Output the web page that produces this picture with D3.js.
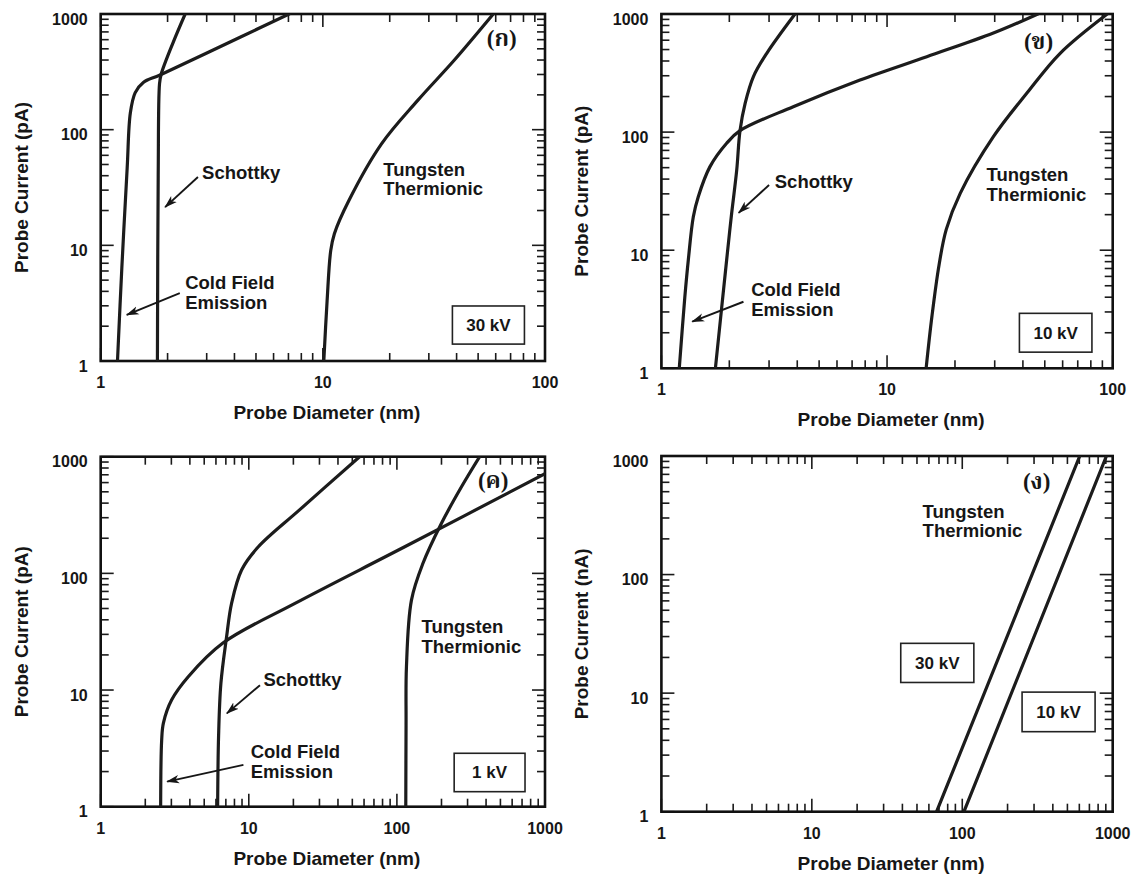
<!DOCTYPE html>
<html><head><meta charset="utf-8">
<script src="https://cdn.jsdelivr.net/npm/d3@7"></script>
<style>
body{margin:0;background:#fff}
svg{display:block}
text{font-family:"Liberation Sans",Arial,Helvetica,sans-serif;font-weight:bold;fill:#161616}
text.thai{font-family:"Liberation Serif","Noto Serif Thai","Noto Sans Thai","DejaVu Serif",serif}
</style>
</head><body>
<svg id="c" width="1143" height="880"></svg>
<script>
// ---------- data ----------
const yTicks = [1, 10, 100, 1000];
const xTicks100 = [1, 10, 100];
const xTicks1000 = [1, 10, 100, 1000];

// panel (ก) 30 kV  [diameter nm, current pA]
const p1Cold = [[1.19,1],[1.245,6.4],[1.316,47],[1.36,140],[1.43,209],[1.555,256],[1.85,297],[4.24,630],[7.05,1000]];
const p1Schottky = [[1.80,1],[1.815,40],[1.84,250],[1.87,300],[2.12,569],[2.40,1000]];
const p1Tungsten = [[10.1,1],[10.45,3.3],[10.85,9],[11.27,12.6],[13.1,24.4],[18.4,75.7],[26.8,180],[39.1,400],[58.5,1000]];
// panel (ข) 10 kV
const p2Cold = [[1.20,1],[1.27,4],[1.316,8.26],[1.385,19.2],[1.457,28.4],[1.642,51],[1.946,80.4],[2.23,102.8],[3.84,164],[7.59,276],[15,435],[29.6,690],[46.6,1000]];
const p2Schottky = [[1.735,1],[1.946,8.26],[2.04,19.2],[2.157,47.8],[2.23,102.8],[2.35,175],[2.555,294],[2.93,465],[3.91,1000]];
const p2Tungsten = [[14.9,1],[15.8,2.73],[17.0,7.5],[18.3,15],[21.1,30.3],[29.6,91.4],[41.6,213],[58.5,465],[94.6,1000]];
// panel (ค) 1 kV
const p3Cold = [[2.54,1],[2.58,3.7],[2.65,5.2],[3.01,8.2],[3.9,13],[6.72,25.4],[20.5,55.3],[113,169],[1000,715]];
const p3Schottky = [[6.16,1],[6.25,4],[6.48,11.4],[7.08,28.6],[7.65,55.3],[8.94,107],[11.6,169],[22,350],[56,1000]];
const p3Tungsten = [[114.8,1],[115.3,5],[116,15.8],[125.4,59],[150,122],[200,269],[273,552],[362,1000]];
// panel (ง) tungsten thermionic [diameter nm, current nA]
const p4Tungsten30 = [[67.5,1],[604,1000]];
const p4Tungsten10 = [[102.6,1],[909,1000]];

// ---------- drawing ----------
const svg = d3.select('#c');
const defs = svg.append('defs');
defs.append('marker').attr('id','ah').attr('viewBox','0 -5 13 10')
  .attr('refX',12).attr('refY',0).attr('markerWidth',13).attr('markerHeight',10)
  .attr('markerUnits','userSpaceOnUse').attr('orient','auto')
  .append('path').attr('d','M0,-4.2L13,0L0,4.2L3.5,0Z').attr('fill','#161616');

let clipN = 0;
function panel(cfg) {
  const x = d3.scaleLog().domain([1, cfg.xMax]).range([cfg.l, cfg.r]);
  const y = d3.scaleLog().domain([1, 1000]).range([cfg.b, cfg.t]);
  const g = svg.append('g');
  const isMajor = v => Math.abs(Math.log10(v) - Math.round(Math.log10(v))) < 1e-9;
  const len = v => isMajor(v) ? 13 : 8;
  const xt = x.ticks(), yt = y.ticks();
  const tk = g.append('g').attr('stroke','#1a1a1a').attr('stroke-width',1.6);

  // inward ticks on all four sides
  tk.selectAll('line.b').data(xt).join('line').attr('class','b')
    .attr('x1',d=>x(d)).attr('x2',d=>x(d)).attr('y1',cfg.b).attr('y2',d=>cfg.b-len(d));
  tk.selectAll('line.t').data(xt).join('line').attr('class','t')
    .attr('x1',d=>x(d)).attr('x2',d=>x(d)).attr('y1',cfg.t).attr('y2',d=>cfg.t+len(d));
  tk.selectAll('line.l').data(yt).join('line').attr('class','l')
    .attr('y1',d=>y(d)).attr('y2',d=>y(d)).attr('x1',cfg.l).attr('x2',d=>cfg.l+len(d));
  tk.selectAll('line.r').data(yt).join('line').attr('class','r')
    .attr('y1',d=>y(d)).attr('y2',d=>y(d)).attr('x1',cfg.r).attr('x2',d=>cfg.r-len(d));

  // tick labels
  g.selectAll('text.xl').data(cfg.xTicks).join('text').attr('class','xl')
    .attr('x',d=>x(d)).attr('y',cfg.b+27).attr('text-anchor','middle').attr('font-size',16)
    .text(d3.format('d'));
  g.selectAll('text.yl').data(yTicks).join('text').attr('class','yl')
    .attr('x',cfg.l-13).attr('y',d=>y(d)+10.5).attr('text-anchor','end').attr('font-size',16)
    .text(d3.format('d'));

  // frame
  g.append('rect').attr('x',cfg.l).attr('y',cfg.t).attr('width',cfg.r-cfg.l).attr('height',cfg.b-cfg.t)
    .attr('fill','none').attr('stroke','#111').attr('stroke-width',2.6);

  // titles
  g.append('text').attr('x',(cfg.l+cfg.r)/2+4).attr('y',cfg.b+58).attr('text-anchor','middle')
    .attr('font-size',19).text('Probe Diameter (nm)');
  g.append('text').attr('transform',`translate(${cfg.l-73},${(cfg.t+cfg.b)/2}) rotate(-90)`)
    .attr('text-anchor','middle').attr('font-size',19).text(cfg.yTitle);

  // curves
  const id = 'clip' + (clipN++);
  defs.append('clipPath').attr('id',id).append('rect')
    .attr('x',cfg.l).attr('y',cfg.t).attr('width',cfg.r-cfg.l).attr('height',cfg.b-cfg.t);
  const line = d3.line().x(d => x(d[0])).y(d => y(d[1])).curve(d3.curveCatmullRom.alpha(0.5));
  g.append('g').attr('clip-path',`url(#${id})`).selectAll('path').data(cfg.series).join('path')
    .attr('d', line).attr('fill','none').attr('stroke','#1c1c1c').attr('stroke-width',3.2)
    .attr('stroke-linejoin','round').attr('stroke-linecap','round');

  // annotations (data coordinates), multi-line labels as tspans
  (cfg.texts || []).forEach(t => {
    const tx = g.append('text').attr('x',x(t[0])).attr('y',y(t[1])).attr('font-size',18.5);
    t[2].forEach((s,i) => tx.append('tspan').attr('x',x(t[0])).attr('dy', i ? 19.5 : 0).text(s));
  });
  (cfg.arrows || []).forEach(a => {
    g.append('line').attr('x1',x(a[0])).attr('y1',y(a[1])).attr('x2',x(a[2])).attr('y2',y(a[3]))
      .attr('stroke','#161616').attr('stroke-width',1.9).attr('marker-end','url(#ah)');
  });
  (cfg.boxes || []).forEach(bx => {
    const x0 = x(bx[0]), x1 = x(bx[1]), y0 = y(bx[3]), y1 = y(bx[2]);
    g.append('rect').attr('x',x0).attr('y',y0).attr('width',x1-x0).attr('height',y1-y0)
      .attr('fill','#fff').attr('stroke','#222').attr('stroke-width',1.6);
    g.append('text').attr('x',(x0+x1)/2).attr('y',(y0+y1)/2+6).attr('text-anchor','middle')
      .attr('font-size',17).text(bx[4]);
  });
  g.append('text').attr('class','thai').attr('x',x(cfg.tag[0])).attr('y',y(cfg.tag[1]))
    .attr('text-anchor','middle').attr('font-size',23).text(cfg.tag[2]);
}

panel({l:100.7, r:545, t:14, b:361, xMax:100, xTicks:xTicks100, yTitle:'Probe Current (pA)',
  series:[p1Cold, p1Schottky, p1Tungsten],
  texts:[[2.86,37.5,['Schottky']],[2.40,4.19,['Cold Field','Emission']],[18.7,39.8,['Tungsten','Thermionic']]],
  arrows:[[2.74,39.0,1.95,21.4],[2.27,3.87,1.31,2.50]],
  boxes:[[38.3,80.8,1.40,2.99,'30 kV']],
  tag:[63.8,529,'(ก)']});

panel({l:661.4, r:1112.7, t:14, b:368.3, xMax:100, xTicks:xTicks100, yTitle:'Probe Current (pA)',
  series:[p2Cold, p2Schottky, p2Tungsten],
  texts:[[3.18,33.6,['Schottky']],[2.50,4.09,['Cold Field','Emission']],[27.6,38.5,['Tungsten','Thermionic']]],
  arrows:[[3.00,35.7,2.20,20.7],[2.31,3.66,1.37,2.48]],
  boxes:[[38.6,80.9,1.37,2.92,'10 kV']],
  tag:[46.9,505,'(ข)']});

panel({l:100.7, r:545, t:456.7, b:806.7, xMax:1000, xTicks:xTicks1000, yTitle:'Probe Current (pA)',
  series:[p3Cold, p3Schottky, p3Tungsten],
  texts:[[12.55,10.8,['Schottky']],[10.3,2.61,['Cold Field','Emission']],[146.6,30.8,['Tungsten','Thermionic']]],
  arrows:[[11.9,11.0,7.11,6.31],[9.2,2.28,2.81,1.64]],
  boxes:[[243.6,733,1.345,2.87,'1 kV']],
  tag:[447,538,'(ค)']});

panel({l:661.4, r:1112.7, t:456, b:811.7, xMax:1000, xTicks:xTicks1000, yTitle:'Probe Current (nA)',
  series:[p4Tungsten30, p4Tungsten10],
  texts:[[54.5,300,['Tungsten','Thermionic']]],
  arrows:[],
  boxes:[[39.0,119.4,12.3,26.3,'30 kV'],[249.8,763.7,4.73,10.2,'10 kV']],
  tag:[312,527,'(ง)']});
</script>
</body></html>
